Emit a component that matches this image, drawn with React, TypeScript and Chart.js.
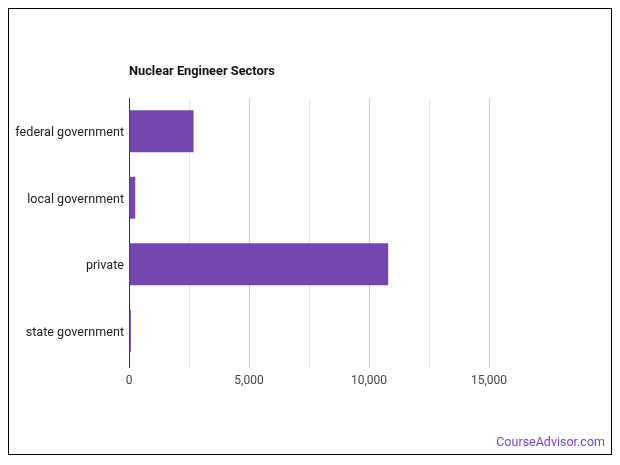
import React, { useEffect, useRef } from "react";
import { Chart, registerables } from "chart.js";

Chart.register(...registerables);

const categories = ["federal government", "local government", "private", "state government"];
const workers = [2690, 260, 10800, 80];
const tickValues = [0, 5000, 10000, 15000];
const axisMax = 17500;
const chartTitle = "Nuclear Engineer Sectors";

const titlePlugin = {
  id: "leftTitle",
  afterDraw(chart: any) {
    const { ctx, chartArea } = chart;
    ctx.save();
    ctx.font = "bold 12.8px Roboto";
    ctx.fillStyle = "#111";
    ctx.textBaseline = "middle";
    ctx.textAlign = "left";
    ctx.fillText(chartTitle, chartArea.left, chartArea.top - 26);
    ctx.restore();
  },
};

export default function App() {
  const ref = useRef<HTMLCanvasElement | null>(null);
  useEffect(() => {
    if (!ref.current) return;
    const chart = new Chart(ref.current, {
      type: "bar",
      data: {
        labels: categories,
        datasets: [
          {
            data: workers,
            backgroundColor: "#7447ae",
            borderWidth: 0,
            categoryPercentage: 1,
            barPercentage: 0.63,
          },
        ],
      },
      options: {
        indexAxis: "y",
        animation: false,
        responsive: false,
        maintainAspectRatio: false,
        layout: { padding: { top: 89, right: 62, left: 0, bottom: 0 } },
        plugins: { legend: { display: false }, tooltip: { enabled: false }, title: { display: false } },
        scales: {
          x: {
            min: 0,
            max: axisMax,
            afterBuildTicks(scale: any) {
              const t = [];
              for (let v = 0; v <= axisMax; v += 2500) t.push({ value: v });
              scale.ticks = t;
            },
            afterFit(scale: any) {
              scale.height = 90;
            },
            border: { display: false },
            grid: {
              drawTicks: true,
              tickLength: 4,
              color: (c: any) => {
                const v = c.tick ? c.tick.value : 0;
                if (v === axisMax) return "rgba(0,0,0,0)";
                if (v === 0) return "#333";
                return v % 5000 === 0 ? "#cccccc" : "#e6e6e6";
              },
            },
            ticks: {
              padding: 6,
              autoSkip: false,
              maxRotation: 0,
              color: "#444",
              font: { family: "Roboto", size: 12 },
              callback: (v: any) => (tickValues.includes(Number(v)) ? Number(v).toLocaleString("en-US") : ""),
            },
          },
          y: {
            afterFit(scale: any) {
              scale.width = 120;
            },
            border: { display: true, color: "#333", width: 1, z: -1 },
            grid: { display: false, drawTicks: false },
            ticks: {
              padding: 5,
              labelOffset: 2,
              color: "#222",
              font: { family: "Roboto", size: 12.6 },
            },
          },
        },
      },
      plugins: [titlePlugin],
    });
    return () => chart.destroy();
  }, []);

  return (
    <div
      style={{
        position: "relative",
        width: 602,
        height: 445,
        border: "1px solid #000",
        background: "#fff",
      }}
    >
      <canvas ref={ref} width={602} height={445} style={{ display: "block" }} />
      <div
        style={{
          position: "absolute",
          right: 6,
          bottom: 5,
          fontFamily: "Roboto",
          fontSize: 12.5,
          color: "#7447ae",
        }}
      >
        CourseAdvisor.com
      </div>
    </div>
  );
}
